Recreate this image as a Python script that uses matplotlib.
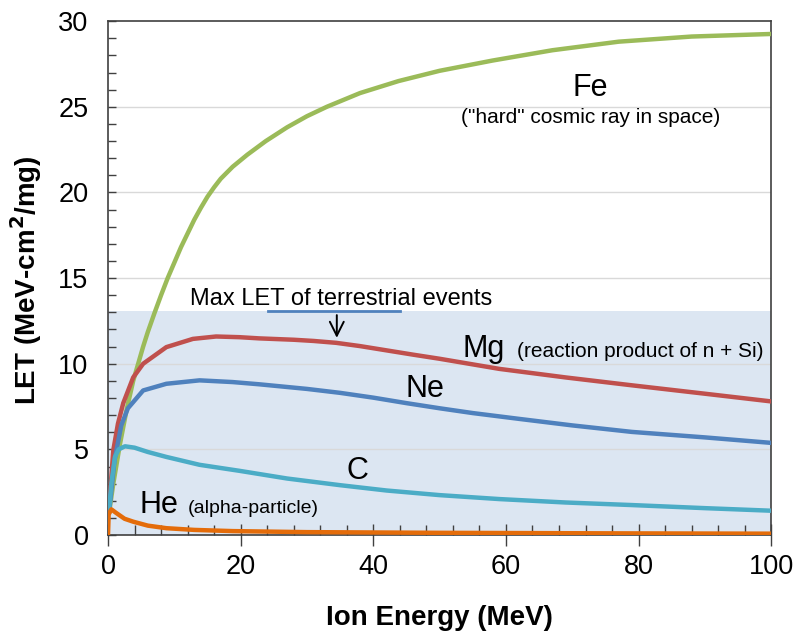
import numpy as np
import matplotlib
matplotlib.use("Agg")
from matplotlib import pyplot as plt
from matplotlib.ticker import MultipleLocator

plt.rcParams['font.family'] = ['Liberation Sans', 'DejaVu Sans']

# LET vs ion energy, read per ion
fe_e = [0.2, 0.8, 1.8, 2.8, 3.8, 5.3, 6, 7, 8, 9, 10, 11, 12, 13, 14, 15, 16, 17, 18.8, 21, 23.8,
        27, 30, 33, 38, 43.8, 50, 58, 67, 77, 88, 100]
fe_let = [1.4, 3.0, 5.3, 7.3, 9.0, 11.0, 11.85, 12.95, 14.0, 15.0, 15.9, 16.8, 17.6, 18.4, 19.1, 19.75,
          20.3, 20.8, 21.5, 22.2, 23.0, 23.8, 24.45, 25.0, 25.8, 26.5, 27.1, 27.7, 28.3, 28.8, 29.1, 29.25]

mg_e = [0.2, 0.8, 1.5, 2.3, 3.8, 5.3, 8.8, 12.8, 16.3, 19.8, 22.8, 28, 31, 34.4, 38, 42, 46, 50,
        59, 69, 79, 90, 100]
mg_let = [1.8, 4.95, 6.5, 7.7, 9.2, 10.0, 10.97, 11.45, 11.59, 11.55, 11.48, 11.4, 11.33, 11.22,
          11.03, 10.78, 10.53, 10.29, 9.7, 9.2, 8.74, 8.25, 7.8]

ne_e = [0.2, 1, 2, 3, 3.6, 5.3, 8.8, 13.8, 18.8, 22.8, 26, 30, 35, 40, 45, 50, 55, 62, 70, 79, 90, 100]
ne_let = [1.5, 4.4, 6.4, 7.4, 7.67, 8.44, 8.83, 9.03, 8.93, 8.8, 8.68, 8.53, 8.3, 8.02, 7.7, 7.4,
          7.12, 6.78, 6.4, 6.02, 5.7, 5.38]

c_e = [0.2, 0.5, 1.05, 1.6, 2.56, 4, 6, 8.8, 13.8, 19.8, 27, 35, 42, 50, 59, 69, 79, 90, 100]
c_let = [1.6, 3.0, 4.56, 5.0, 5.18, 5.1, 4.85, 4.56, 4.1, 3.75, 3.3, 2.91, 2.6, 2.33, 2.1, 1.9, 1.75, 1.57, 1.42]

he_e = [0, 0.1, 0.5, 1.2, 2.5, 3.8, 6, 8.8, 13, 18.8, 30, 50, 75, 100]
he_let = [0, 1.2, 1.5, 1.3, 0.95, 0.78, 0.55, 0.4, 0.3, 0.23, 0.17, 0.13, 0.1, 0.08]

terrestrial_max = 13.1
underline_x = [24.1, 44.0]
arrow_x = 34.5

fig = plt.figure(figsize=(8, 6.4), dpi=100)
ax = fig.add_axes([0.135, 0.164, 0.829, 0.803])

ax.axhspan(0, terrestrial_max, color='#dce6f2', zorder=0, lw=0)
for g in range(5, 30, 5):
    ax.axhline(g, color='#d9d9d9', lw=1, zorder=0.5)

lw = 3.2
ax.plot(fe_e, fe_let, color='#9bbb59', lw=lw, zorder=3, solid_joinstyle='round')
ax.plot(mg_e, mg_let, color='#c0504d', lw=lw, zorder=3, solid_joinstyle='round')
ax.plot(ne_e, ne_let, color='#4f81bd', lw=lw, zorder=3, solid_joinstyle='round')
ax.plot(c_e, c_let, color='#4bacc6', lw=lw, zorder=3, solid_joinstyle='round')
ax.plot(he_e, he_let, color='#e46c0a', lw=lw, zorder=3, solid_joinstyle='round')

ax.set_xlim(0, 100)
ax.set_ylim(0, 30)
ax.xaxis.set_major_locator(MultipleLocator(20))
ax.xaxis.set_minor_locator(MultipleLocator(4))
ax.yaxis.set_major_locator(MultipleLocator(5))
ax.yaxis.set_minor_locator(MultipleLocator(1))
ax.tick_params(axis='x', which='major', direction='inout', length=16, width=1,
               labelsize=19.5, pad=6, color='#404040')
ax.tick_params(axis='x', which='minor', direction='in', length=7, width=1, color='#404040')
ax.tick_params(axis='y', which='both', direction='in', length=6, width=1,
               labelsize=19.5, pad=14, color='#404040')
for s in ax.spines.values():
    s.set_color('#404040')
    s.set_linewidth(1.2)

ax.set_xlabel('Ion Energy (MeV)', fontsize=20, fontweight='bold', labelpad=18)
fig.text(26 / 800, 1 - 280 / 640, 'LET (MeV-cm$^\\mathbf{2}$/mg)', rotation=90,
         ha='center', va='center', fontsize=20, fontweight='bold')

# labels on the curves
ax.text(72.7, 25.63, 'Fe', fontsize=22, ha='center', va='baseline')
ax.text(72.7, 24.07, '("hard" cosmic ray in space)', fontsize=15, ha='center', va='baseline')
ax.text(53.4, 10.38, 'Mg', fontsize=22, ha='left', va='baseline')
ax.text(61.6, 10.38, '(reaction product of n + Si)', fontsize=15, ha='left', va='baseline')
ax.text(44.8, 8.06, 'Ne', fontsize=22, ha='left', va='baseline')
ax.text(35.9, 3.3, 'C', fontsize=22, ha='left', va='baseline')
ax.text(4.7, 1.26, 'He', fontsize=22, ha='left', va='baseline')
ax.text(12.1, 1.26, '(alpha-particle)', fontsize=14, ha='left', va='baseline')

ax.text(12.4, 13.45, 'Max LET of terrestrial events', fontsize=17, ha='left', va='baseline')
ax.plot(underline_x, [terrestrial_max, terrestrial_max], color='#4f81bd', lw=2, zorder=4)
ax.annotate('', xy=(arrow_x, 11.35), xytext=(arrow_x, terrestrial_max - 0.1),
            arrowprops=dict(arrowstyle='->', color='black', lw=1.4, mutation_scale=25),
            zorder=5)

fig.savefig('out.png', dpi=100)
